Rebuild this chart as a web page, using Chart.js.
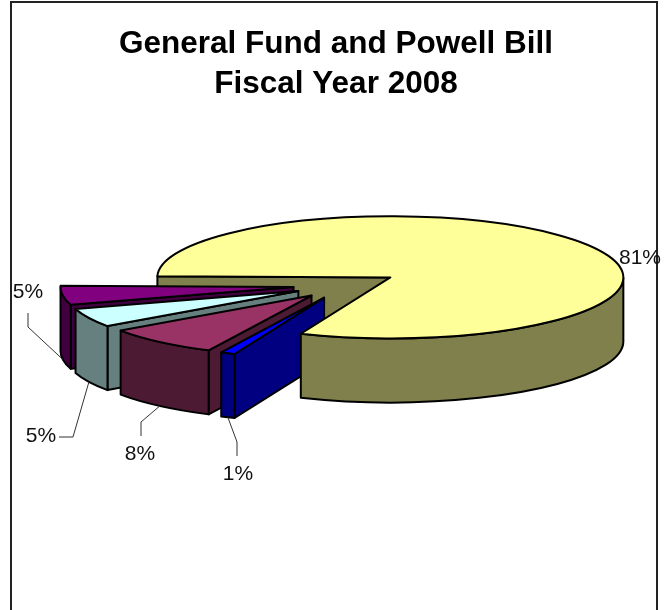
<!DOCTYPE html>
<html>
<head>
<meta charset="utf-8">
<style>
  html, body { margin: 0; padding: 0; background: #fff; overflow: hidden; }
  canvas { display: block; }
</style>
<script src="https://cdn.jsdelivr.net/npm/chart.js@4"></script>
</head>
<body>
<canvas id="fundChart" width="665" height="610"></canvas>
<script>
const categories = ["Slice A", "Slice B", "Slice C", "Slice D", "Slice E"];
const shares = [81, 1, 8, 5, 5];
const topColors = ["#ffff99", "#0000ff", "#993366", "#ccffff", "#800080"];
const wallColors = ["#80804d", "#000080", "#4d1a33", "#668080", "#400040"];
const titleLines = ["General Fund and Powell Bill", "Fiscal Year 2008"];

// pie tilt and extrusion
const squash = 0.262;
const depth = 64;
const explode = 53;
const pieRadius = 233;
const pieNudgeX = 10;

// label text position and leader elbow for each slice
const labelSpots = [
  { x: 640, y: 258 },
  { x: 238, y: 474, elbow: [[237, 442], [237, 456]] },
  { x: 140, y: 454, elbow: [[141, 422], [141, 436]] },
  { x: 41, y: 436, elbow: [[73, 437], [59, 437]] },
  { x: 28, y: 292, elbow: [[28, 327], [28, 313]] }
];

function midAngle(arc) {
  return (arc.startAngle + arc.endAngle) / 2;
}

// pie center of a slice after it has been pulled out
function sliceCenter(arc) {
  const mid = midAngle(arc);
  return {
    x: arc.x + pieNudgeX + Math.cos(mid) * explode,
    y: arc.y + Math.sin(mid) * explode * squash
  };
}

function rimPoint(arc, angle) {
  const c = sliceCenter(arc);
  return {
    x: c.x + Math.cos(angle) * arc.outerRadius,
    y: c.y + Math.sin(angle) * arc.outerRadius * squash
  };
}

function strokeAndFill(ctx, fill) {
  ctx.fillStyle = fill;
  ctx.fill();
  ctx.strokeStyle = "#000";
  ctx.lineWidth = 2;
  ctx.lineJoin = "round";
  ctx.stroke();
}

function drawRadialWall(ctx, arc, angle, fill) {
  const c = sliceCenter(arc);
  const p = rimPoint(arc, angle);
  ctx.beginPath();
  ctx.moveTo(c.x, c.y);
  ctx.lineTo(p.x, p.y);
  ctx.lineTo(p.x, p.y + depth);
  ctx.lineTo(c.x, c.y + depth);
  ctx.closePath();
  strokeAndFill(ctx, fill);
}

function drawRimWall(ctx, arc, fill) {
  const a1 = Math.max(arc.startAngle, 0);
  const a2 = Math.min(arc.endAngle, Math.PI);
  if (a2 <= a1) return;
  const c = sliceCenter(arc);
  const r = arc.outerRadius;
  ctx.beginPath();
  ctx.ellipse(c.x, c.y, r, r * squash, 0, a1, a2);
  ctx.ellipse(c.x, c.y + depth, r, r * squash, 0, a2, a1, true);
  ctx.closePath();
  strokeAndFill(ctx, fill);
}

// the top face comes from the library's own arc element, flattened
function drawTop(ctx, arc) {
  const c = sliceCenter(arc);
  ctx.save();
  ctx.translate(c.x, c.y);
  ctx.scale(1, squash);
  ctx.translate(-arc.x, -arc.y);
  arc.draw(ctx);
  ctx.restore();

  const r = arc.outerRadius;
  ctx.beginPath();
  ctx.moveTo(c.x, c.y);
  ctx.ellipse(c.x, c.y, r, r * squash, 0, arc.startAngle, arc.endAngle);
  ctx.closePath();
  ctx.strokeStyle = "#000";
  ctx.lineWidth = 2;
  ctx.lineJoin = "round";
  ctx.stroke();
}

function drawLeader(ctx, arc, spot) {
  if (!spot.elbow) return;
  const p = rimPoint(arc, midAngle(arc));
  ctx.beginPath();
  ctx.moveTo(p.x, p.y + depth);
  spot.elbow.forEach(([x, y]) => ctx.lineTo(x, y));
  ctx.strokeStyle = "#333";
  ctx.lineWidth = 1;
  ctx.stroke();
}

const pie3d = {
  id: "pie3d",
  beforeDraw(chart) {
    // chart frame, open at the bottom edge of the page
    const ctx = chart.ctx;
    ctx.save();
    ctx.strokeStyle = "#222";
    ctx.lineWidth = 2;
    ctx.strokeRect(11, 2, 646, 640);
    ctx.restore();
  },
  beforeDatasetDraw(chart, args) {
    const ctx = chart.ctx;
    const arcs = args.meta.data;

    ctx.save();
    // big slice: the wall facing the viewer sits behind the pulled out slices
    drawRadialWall(ctx, arcs[0], arcs[0].startAngle, wallColors[0]);

    // small slices, furthest back first
    for (let i = arcs.length - 1; i >= 1; i--) {
      const arc = arcs[i];
      if (Math.cos(arc.startAngle) < 0) drawRadialWall(ctx, arc, arc.startAngle, wallColors[i]);
      drawRimWall(ctx, arc, wallColors[i]);
      drawTop(ctx, arc);
    }

    drawRimWall(ctx, arcs[0], wallColors[0]);
    drawTop(ctx, arcs[0]);

    ctx.fillStyle = "#111";
    ctx.font = "21px 'Liberation Sans', Arial, sans-serif";
    ctx.textAlign = "center";
    ctx.textBaseline = "middle";
    arcs.forEach((arc, i) => {
      drawLeader(ctx, arc, labelSpots[i]);
      ctx.fillText(shares[i] + "%", labelSpots[i].x, labelSpots[i].y);
    });
    ctx.restore();
    return false;
  }
};

new Chart(document.getElementById("fundChart"), {
  type: "pie",
  data: {
    labels: categories,
    datasets: [{
      data: shares,
      backgroundColor: topColors,
      borderWidth: 0,
      radius: pieRadius,
      rotation: -89
    }]
  },
  plugins: [pie3d],
  options: {
    responsive: false,
    animation: false,
    layout: { padding: { left: 7, right: 0, top: 0, bottom: 144 } },
    plugins: {
      legend: { display: false },
      tooltip: { enabled: false },
      title: {
        display: true,
        text: titleLines,
        color: "#000",
        font: { family: "'Liberation Sans', Arial, sans-serif", size: 31.5, weight: "bold", lineHeight: 1.27 },
        padding: { top: 24, bottom: 0 }
      }
    }
  }
});
</script>
</body>
</html>
